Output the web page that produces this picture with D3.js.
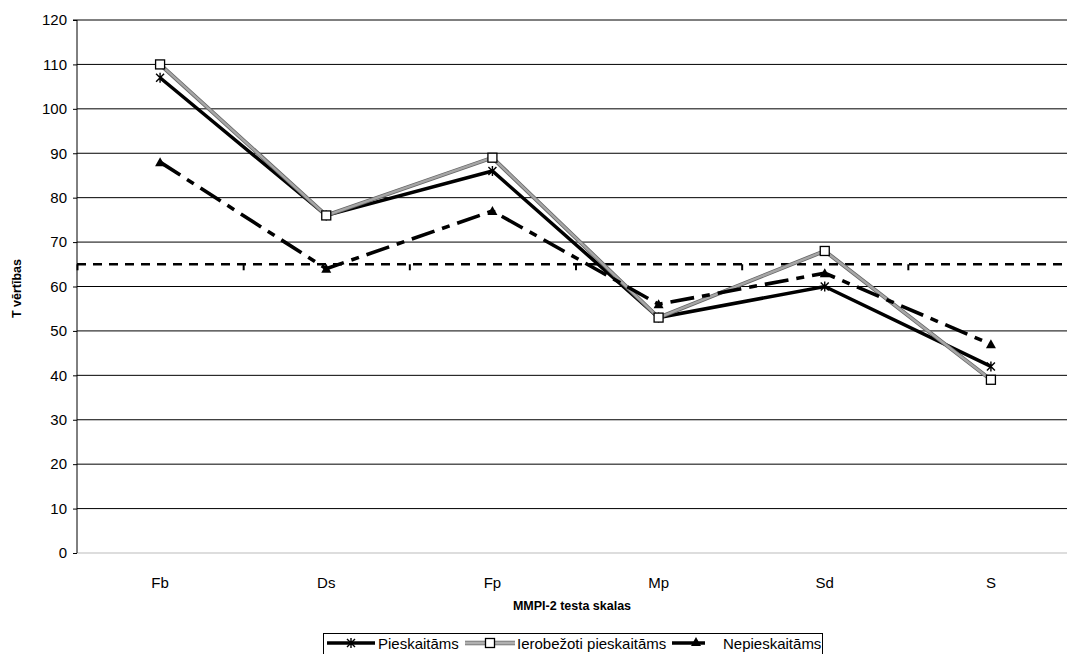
<!DOCTYPE html>
<html>
<head>
<meta charset="utf-8">
<script src="https://cdn.jsdelivr.net/npm/d3@7"></script>
<style>
  html, body { margin: 0; padding: 0; background: #fff; }
  svg { display: block; font-family: "Liberation Sans", Arial, sans-serif; }
</style>
</head>
<body>
<svg id="chart" width="1067" height="654"></svg>
<script>
// MMPI-2 scales and mean T values per group
const scales = ["Fb", "Ds", "Fp", "Mp", "Sd", "S"];
const pieskaitams = [107, 76, 86, 53, 60, 42];
const ierobezoti = [110, 76, 89, 53, 68, 39];
const nepieskaitams = [88, 64, 77, 56, 63, 47];
const yTicks = [0, 10, 20, 30, 40, 50, 60, 70, 80, 90, 100, 110, 120];
const cutoff = 65;

const seriesNames = ["Pieskaitāms", "Ierobežoti pieskaitāms", "Nepieskaitāms"];

const svg = d3.select("#chart");
const plotLeft = 77, plotRight = 1074, plotTop = 20, plotBottom = 553;

const x = d3.scaleBand().domain(scales).range([plotLeft, plotRight]).padding(0);
const y = d3.scaleLinear().domain([0, 120]).range([plotBottom, plotTop]);
const cx = d => x(d) + x.bandwidth() / 2;

// horizontal gridlines
svg.append("g")
  .selectAll("line")
  .data(yTicks)
  .join("line")
  .attr("x1", plotLeft).attr("x2", plotRight)
  .attr("y1", d => y(d)).attr("y2", d => y(d))
  .attr("stroke", d => d === 0 ? "#bbb" : "#000")
  .attr("stroke-width", 1);

// y axis
const yAxis = d3.axisLeft(y).tickValues(yTicks).tickSize(4).tickPadding(6);
const ya = svg.append("g").attr("transform", `translate(${plotLeft},0)`).call(yAxis);
ya.select(".domain").attr("stroke", "#000").attr("d", `M-4,${plotTop}H0V${plotBottom}`);
ya.selectAll(".tick line").attr("stroke", "#000");
ya.selectAll(".tick text").attr("font-size", 15).attr("fill", "#000")
  .attr("font-family", "Liberation Sans, Arial, sans-serif");

// cutoff line at T = 65 with category-boundary ticks
const yc = y(cutoff);
svg.append("line")
  .attr("x1", plotLeft).attr("x2", plotRight)
  .attr("y1", yc).attr("y2", yc)
  .attr("stroke", "#000").attr("stroke-width", 2.6)
  .attr("stroke-dasharray", "9,7");
svg.append("g")
  .selectAll("line")
  .data(scales)
  .join("line")
  .attr("x1", d => x(d) + 0.5).attr("x2", d => x(d) + 0.5)
  .attr("y1", yc).attr("y2", yc + 6)
  .attr("stroke", "#000").attr("stroke-width", 2);

// category labels
svg.append("g")
  .selectAll("text")
  .data(scales)
  .join("text")
  .attr("x", d => cx(d)).attr("y", 588)
  .attr("text-anchor", "middle")
  .attr("font-size", 15)
  .text(d => d);

// axis titles
svg.append("text")
  .attr("x", (plotLeft + 1067) / 2).attr("y", 610)
  .attr("text-anchor", "middle")
  .attr("font-size", 12.5).attr("font-weight", "bold")
  .text("MMPI-2 testa skalas");
svg.append("text")
  .attr("transform", `translate(21,${(plotTop + plotBottom) / 2 + 2}) rotate(-90)`)
  .attr("text-anchor", "middle")
  .attr("font-size", 12.5).attr("font-weight", "bold")
  .text("T vērtības");

const line = d3.line().x((d, i) => cx(scales[i])).y(d => y(d));

// marker helpers
function asterisk(g, px, py, s) {
  g.append("path")
    .attr("d", `M${px - s},${py - s}L${px + s},${py + s}M${px - s},${py + s}L${px + s},${py - s}M${px},${py - s - 1}L${px},${py + s + 1}`)
    .attr("stroke", "#000").attr("stroke-width", 1.4).attr("fill", "none");
}
function square(g, px, py, s) {
  g.append("rect")
    .attr("x", px - s).attr("y", py - s).attr("width", 2 * s).attr("height", 2 * s)
    .attr("fill", "#fff").attr("stroke", "#000").attr("stroke-width", 1.3);
}
function triangle(g, px, py, s) {
  g.append("path")
    .attr("d", `M${px},${py - s}L${px + s},${py + s * 0.8}L${px - s},${py + s * 0.8}Z`)
    .attr("fill", "#000");
}

// series 1: Pieskaitāms
const g1 = svg.append("g");
g1.append("path").datum(pieskaitams).attr("d", line)
  .attr("fill", "none").attr("stroke", "#000").attr("stroke-width", 3.5);
pieskaitams.forEach((v, i) => asterisk(g1, cx(scales[i]), y(v), 4));

// series 2: Ierobežoti pieskaitāms
const g2 = svg.append("g");
g2.append("path").datum(ierobezoti).attr("d", line)
  .attr("fill", "none").attr("stroke", "#666").attr("stroke-width", 4);
g2.append("path").datum(ierobezoti).attr("d", line)
  .attr("fill", "none").attr("stroke", "#a6a6a6").attr("stroke-width", 2.4);
ierobezoti.forEach((v, i) => square(g2, cx(scales[i]), y(v), 4.5));

// series 3: Nepieskaitāms
const g3 = svg.append("g");
g3.append("path").datum(nepieskaitams).attr("d", line)
  .attr("fill", "none").attr("stroke", "#000").attr("stroke-width", 3.6)
  .attr("stroke-dasharray", "24,8,8,8");
nepieskaitams.forEach((v, i) => triangle(g3, cx(scales[i]), y(v), 5));

// legend
const lg = svg.append("g");
lg.append("rect").attr("x", 323.5).attr("y", 633.5).attr("width", 499).attr("height", 30)
  .attr("fill", "#fff").attr("stroke", "#000").attr("stroke-width", 1);
const ly = 643;
// item 1
lg.append("line").attr("x1", 327).attr("x2", 375).attr("y1", ly).attr("y2", ly)
  .attr("stroke", "#000").attr("stroke-width", 3.5);
asterisk(lg, 351, ly, 4);
lg.append("text").attr("x", 378).attr("y", ly + 5.5).attr("font-size", 15).text(seriesNames[0]);
// item 2
lg.append("line").attr("x1", 465).attr("x2", 515).attr("y1", ly).attr("y2", ly)
  .attr("stroke", "#666").attr("stroke-width", 4.5);
lg.append("line").attr("x1", 465).attr("x2", 515).attr("y1", ly).attr("y2", ly)
  .attr("stroke", "#b0b0b0").attr("stroke-width", 3);
square(lg, 490, ly, 4.5);
lg.append("text").attr("x", 517).attr("y", ly + 5.5).attr("font-size", 15).text(seriesNames[1]);
// item 3
lg.append("line").attr("x1", 672).attr("x2", 705).attr("y1", ly).attr("y2", ly)
  .attr("stroke", "#000").attr("stroke-width", 3.6);
triangle(lg, 696, ly - 1, 5);
lg.append("text").attr("x", 723).attr("y", ly + 5.5).attr("font-size", 15).text(seriesNames[2]);
</script>
</body>
</html>
